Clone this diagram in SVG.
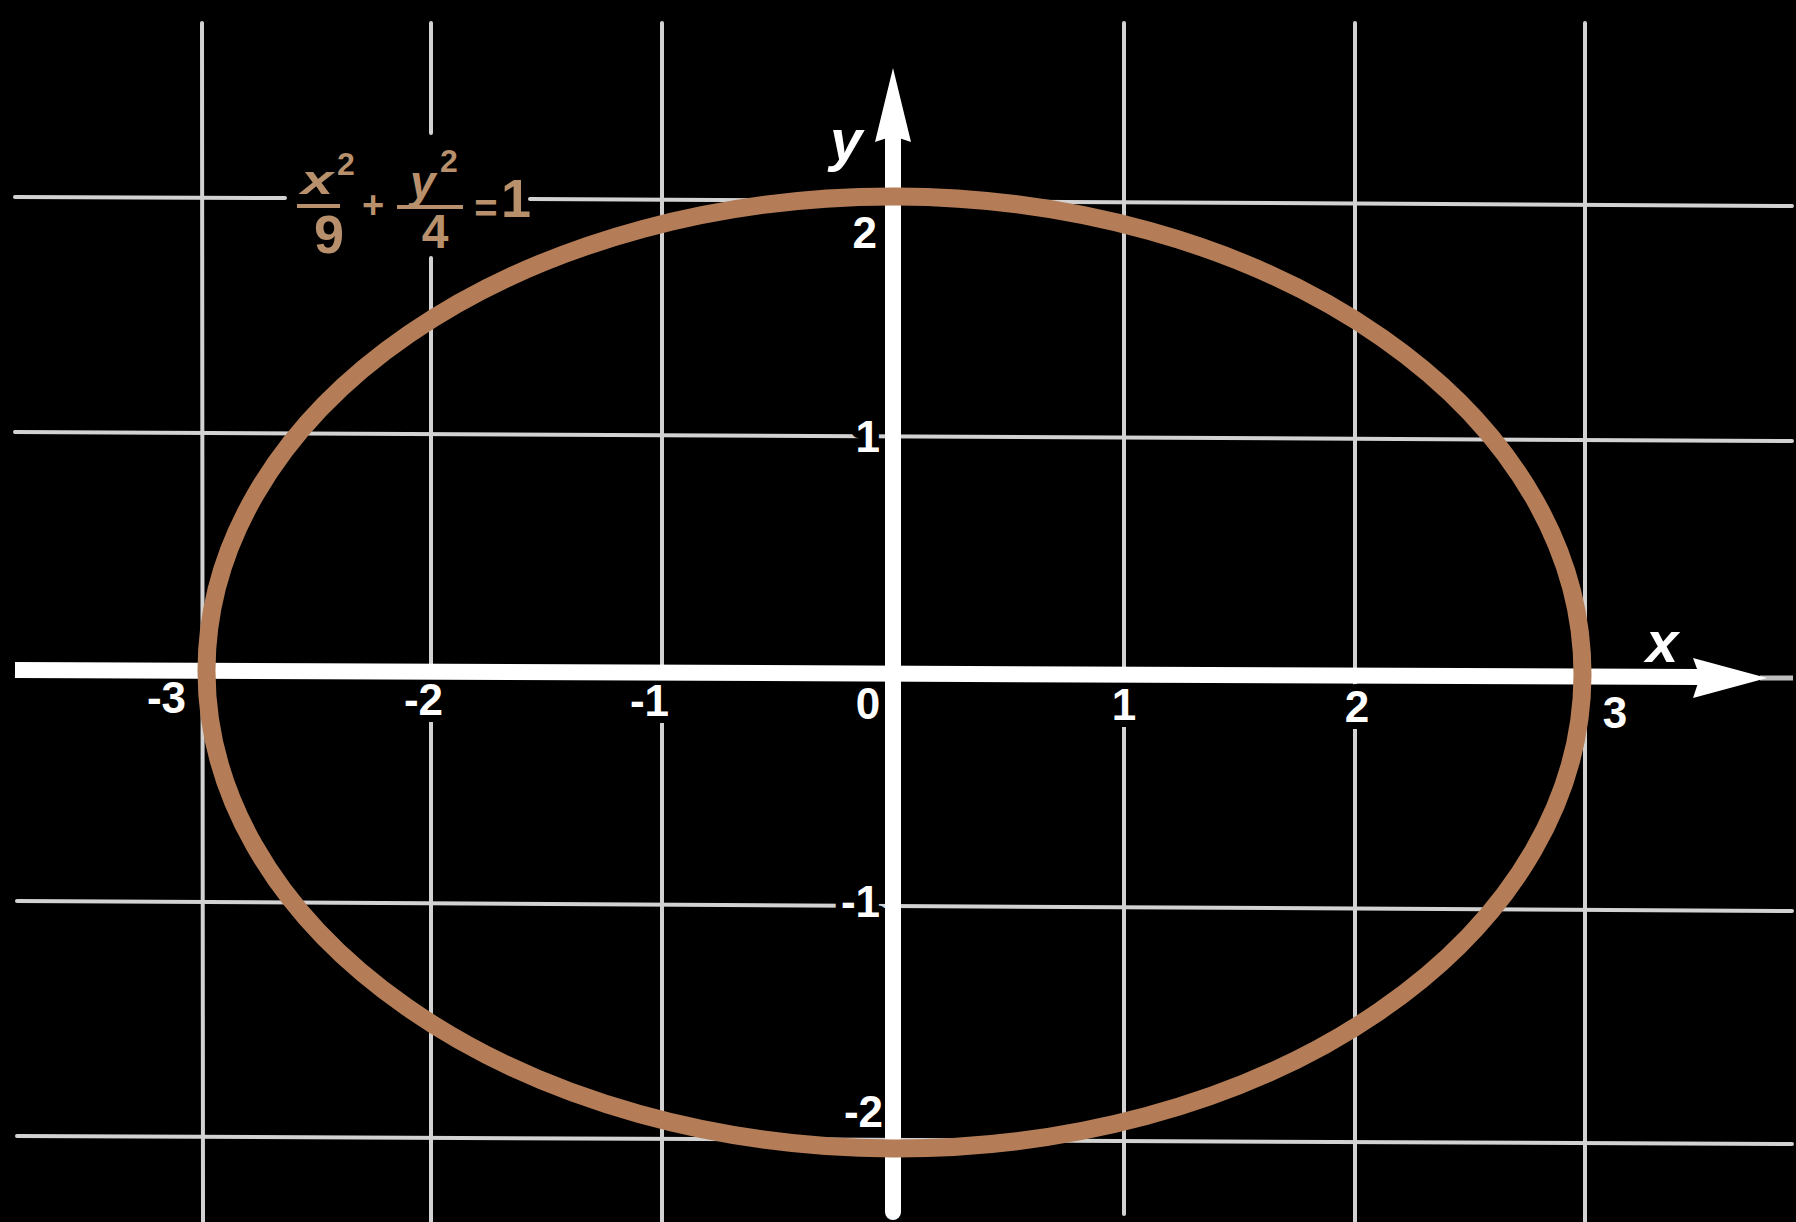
<svg xmlns="http://www.w3.org/2000/svg" width="1796" height="1222" viewBox="0 0 1796 1222">
<style>
.grid{stroke:#d2d2d2;stroke-width:4;fill:none;stroke-linecap:round}
.axis{stroke:#ffffff;stroke-width:16;fill:none}
.lbl{font-family:"Liberation Sans",Arial,sans-serif;font-weight:bold;font-size:44px;fill:#ffffff;stroke:#000;stroke-width:14px;paint-order:stroke;stroke-linejoin:round}
.ax{font-family:"Liberation Sans",Arial,sans-serif;font-weight:bold;font-style:italic;fill:#ffffff}
.eq{font-family:"Liberation Sans",Arial,sans-serif;font-weight:bold;fill:#b8906c}
.eqi{font-family:"Liberation Sans",Arial,sans-serif;font-weight:bold;font-style:italic;fill:#b8906c}
</style>
<rect x="0" y="0" width="1796" height="1222" fill="#000000"/>
<g id="grid">
  <line class="grid" x1="202" y1="23" x2="203" y2="1222"/>
  <line class="grid" x1="431" y1="23" x2="431" y2="133"/>
  <line class="grid" x1="431" y1="258" x2="431" y2="1222"/>
  <line class="grid" x1="662" y1="23" x2="662" y2="1222"/>
  <line class="grid" x1="1124" y1="23" x2="1124" y2="1214"/>
  <line class="grid" x1="1355" y1="23" x2="1355" y2="1222"/>
  <line class="grid" x1="1585" y1="23" x2="1585" y2="1222"/>
  <line class="grid" x1="15" y1="197" x2="285" y2="198"/>
  <line class="grid" x1="530" y1="199" x2="1792" y2="206"/>
  <line class="grid" x1="15" y1="432" x2="1792" y2="441"/>
  <line class="grid" x1="17" y1="901" x2="1792" y2="911"/>
  <line class="grid" x1="17" y1="1136" x2="1792" y2="1144"/>
</g>
<g id="labels">
  <text class="lbl" x="186" y="713" text-anchor="end">-3</text>
  <text class="lbl" x="443" y="715" text-anchor="end">-2</text>
  <text class="lbl" x="669" y="716" text-anchor="end">-1</text>
  <text class="lbl" x="868" y="719" text-anchor="middle">0</text>
  <text class="lbl" x="1124" y="720" text-anchor="middle">1</text>
  <text class="lbl" x="1357" y="722" text-anchor="middle">2</text>
  <text class="lbl" x="1615" y="728" text-anchor="middle">3</text>
  <text class="lbl" x="877" y="248" text-anchor="end">2</text>
  <text class="lbl" x="880" y="452" text-anchor="end">1</text>
  <text class="lbl" x="880" y="917" text-anchor="end">-1</text>
  <text class="lbl" x="883" y="1127" text-anchor="end">-2</text>
</g>
<g id="axes">
  <line class="axis" x1="15" y1="670" x2="1700" y2="677"/>
  <line x1="1760" y1="678" x2="1793" y2="678" stroke="#bdbdbd" stroke-width="5"/>
  <polygon points="1767,678 1693,658 1700,677 1693,698" fill="#ffffff"/>
  <line class="axis" x1="893" y1="136" x2="893" y2="1212" stroke-linecap="round"/>
  <polygon points="893,68 911,142 893,136 875,142" fill="#ffffff"/>
  <text class="ax" x="1646" y="662" font-size="58">x</text>
  <text class="ax" x="830" y="160" font-size="58">y</text>
</g>
<g id="ellipse">
  <ellipse cx="894.5" cy="672.5" rx="688" ry="476" fill="none" stroke="#b47d57" stroke-width="18" transform="rotate(0.25 894.5 672)"/>
</g>
<g id="equation">
  <text class="eqi" transform="translate(301,194) scale(1.45,1)" x="0" y="0" font-size="40">x</text>
  <text class="eq" x="337" y="175" font-size="32">2</text>
  <line x1="297" y1="206" x2="340" y2="206" stroke="#b8906c" stroke-width="4"/>
  <text class="eq" x="329" y="253" font-size="54" text-anchor="middle">9</text>
  <text class="eq" x="373" y="218" font-size="38" text-anchor="middle">+</text>
  <text class="eqi" x="410" y="198" font-size="46">y</text>
  <text class="eq" x="440" y="172" font-size="32">2</text>
  <line x1="397" y1="207" x2="463" y2="207" stroke="#b8906c" stroke-width="4"/>
  <text class="eq" x="435" y="248" font-size="48" text-anchor="middle">4</text>
  <text class="eq" x="486" y="222" font-size="40" text-anchor="middle">=</text>
  <text class="eq" x="516" y="217" font-size="54" text-anchor="middle">1</text>
</g>
</svg>
